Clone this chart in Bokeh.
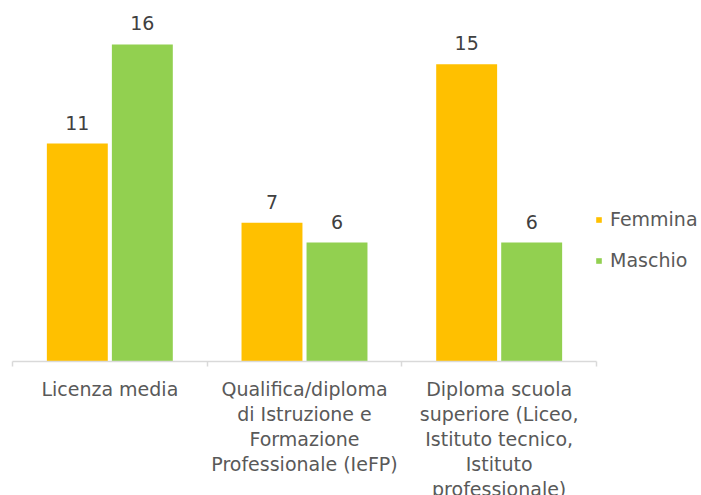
from bokeh.plotting import figure
from bokeh.models import ColumnDataSource, FixedTicker, LabelSet, Legend, LegendItem, Range1d
from bokeh.transform import dodge
from bokeh.core.properties import value
from bokeh.embed import file_html
from bokeh.resources import INLINE

categories = [
    "Licenza media",
    "Qualifica/diploma\ndi Istruzione e\nFormazione\nProfessionale (IeFP)",
    "Diploma scuola\nsuperiore (Liceo,\nIstituto tecnico,\nIstituto\nprofessionale)",
]
femmina = [11, 7, 15]
maschio = [16, 6, 6]
series = ["Femmina", "Maschio"]
colors = ["#FFC000", "#92D050"]

FONT = "DejaVu Sans"
TXT = "#595959"

pos = [i + 0.5 for i in range(len(categories))]
bounds = list(range(len(categories) + 1))
src = ColumnDataSource(dict(
    x=pos, femmina=femmina, maschio=maschio,
    fl=[str(v) for v in femmina], ml=[str(v) for v in maschio],
))

p = figure(frame_width=584, frame_height=361,
           x_range=Range1d(0, len(categories)), y_range=Range1d(0, 18.22),
           output_backend="svg", toolbar_location=None,
           min_border_left=12, min_border_top=0, min_border_bottom=0, min_border_right=105)
p.outline_line_color = None
p.background_fill_color = "white"
p.border_fill_color = "white"
p.xgrid.visible = False
p.ygrid.visible = False
p.yaxis.visible = False

off = 0.167
w = 0.313
r1 = p.vbar(x=dodge("x", -off), top="femmina", width=w, source=src,
            fill_color=colors[0], line_color=None)
r2 = p.vbar(x=dodge("x", off), top="maschio", width=w, source=src,
            fill_color=colors[1], line_color=None)

ax = p.xaxis[0]
ax.ticker = FixedTicker(ticks=pos, minor_ticks=bounds)
ax.major_label_overrides = {x: c for x, c in zip(pos, categories)}
ax.major_label_text_font = FONT
ax.major_label_text_font_size = "19px"
ax.major_label_text_color = TXT
ax.major_label_text_line_height = 1.14
ax.major_label_standoff = 11
ax.axis_line_color = "#D9D9D9"
ax.axis_line_width = 1.5
ax.major_tick_line_color = None
ax.major_tick_in = 0
ax.major_tick_out = 0
ax.minor_tick_line_color = "#D9D9D9"
ax.minor_tick_line_width = 1.5
ax.minor_tick_in = 0
ax.minor_tick_out = 5

for col, lab, dx in (("femmina", "fl", -off), ("maschio", "ml", off)):
    ls = LabelSet(x=dodge("x", dx), y=col, text=lab, source=src,
                  y_offset=14, text_align="center", text_baseline="alphabetic",
                  text_font=value(FONT), text_font_size="19px", text_color="#404040")
    p.add_layout(ls)

legend = Legend(items=[LegendItem(label=series[0], renderers=[r1]),
                       LegendItem(label=series[1], renderers=[r2])],
                location=(-1, 90), orientation="vertical",
                glyph_width=7, glyph_height=7, label_standoff=8, spacing=19,
                padding=0, margin=0, border_line_color=None,
                background_fill_alpha=0,
                label_text_font=FONT, label_text_font_size="19px",
                label_text_color=TXT)
p.add_layout(legend, "right")

open("out.html", "w").write(file_html(p, INLINE))
